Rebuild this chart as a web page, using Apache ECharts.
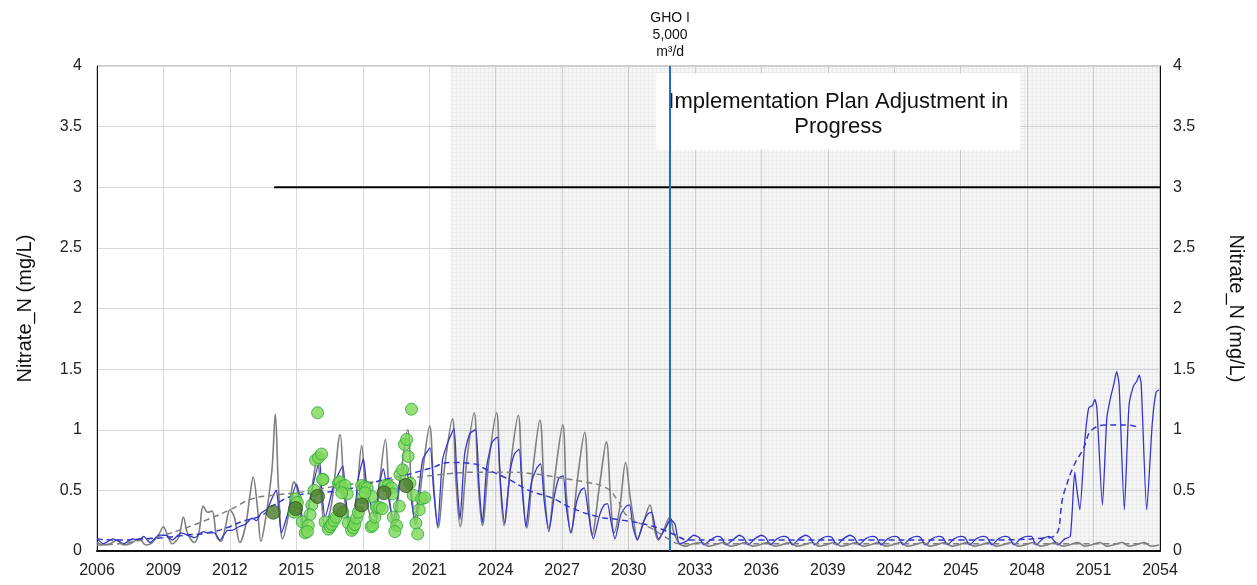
<!DOCTYPE html>
<html><head><meta charset="utf-8">
<script src="https://cdn.jsdelivr.net/npm/echarts@6/dist/echarts.min.js"></script>
<style>html,body{margin:0;padding:0;background:#fff}#c{width:1257px;height:585px}</style>
</head><body><div id="c"></div><script>
// ---------------- DATA ----------------
const yearStart = 2006, yearEnd = 2054, yearStep = 3;
const yTicks = [0, 0.5, 1, 1.5, 2, 2.5, 3, 3.5, 4];
const yLabel = 'Nitrate_N (mg/L)';
const boxText = 'Implementation Plan Adjustment in\nProgress';
const boxCorners = [[2031.25, 3.94], [2047.7, 3.31]];
const ghoYear = 2031.88;
const ghoLabel = 'GHO I\n5,000\nm³/d';
const shadeStart = 2021.95;
const threshold = [[2014, 3], [2054, 3]];

const grayLine = [
 [2006.0,0.07],[2006.3,0.05],[2006.6,0.06],[2006.9,0.09],[2007.2,0.05],[2007.5,0.06],[2007.9,0.1],[2008.2,0.05],
 [2008.5,0.07],[2008.8,0.14],[2009.0,0.2],[2009.2,0.12],[2009.4,0.06],[2009.7,0.12],[2009.9,0.28],[2010.1,0.14],
 [2010.4,0.07],[2010.6,0.15],[2010.8,0.37],[2011.0,0.32],[2011.2,0.33],[2011.4,0.12],[2011.6,0.08],[2011.8,0.2],
 [2012.0,0.34],[2012.2,0.28],[2012.45,0.07],[2012.7,0.2],[2012.9,0.45],[2013.05,0.61],[2013.25,0.35],[2013.4,0.08],
 [2013.6,0.25],[2013.9,0.67],[2014.05,1.13],[2014.2,0.5],[2014.38,0.1],[2014.6,0.25],[2014.9,0.57],[2015.05,0.5],
 [2015.3,0.2],[2015.6,0.4],[2015.95,0.76],[2016.1,0.5],[2016.3,0.2],[2016.6,0.4],[2016.98,0.96],[2017.15,0.5],
 [2017.35,0.22],[2017.55,0.17],[2017.75,0.5],[2017.95,0.87],[2018.15,0.45],[2018.4,0.25],[2018.55,0.23],[2018.75,0.55],
 [2019.02,0.92],[2019.2,0.45],[2019.4,0.2],[2019.7,0.6],[2020.03,1.0],[2020.2,0.5],[2020.38,0.22],[2020.7,0.65],
 [2021.02,1.03],[2021.2,0.55],[2021.4,0.19],[2021.7,0.7],[2022.05,1.09],[2022.2,0.6],[2022.4,0.2],[2022.7,0.75],
 [2023.03,1.14],[2023.2,0.6],[2023.4,0.21],[2023.7,0.75],[2024.04,1.14],[2024.2,0.6],[2024.38,0.21],[2024.7,0.75],
 [2025.02,1.12],[2025.2,0.55],[2025.4,0.19],[2025.7,0.7],[2026.0,1.08],[2026.2,0.5],[2026.4,0.19],[2026.7,0.65],
 [2027.03,1.04],[2027.2,0.45],[2027.4,0.15],[2027.7,0.6],[2028.02,0.98],[2028.2,0.4],[2028.35,0.13],[2028.7,0.55],
 [2029.0,0.9],[2029.2,0.4],[2029.35,0.15],[2029.6,0.35],[2029.87,0.73],[2030.07,0.45],[2030.2,0.3],[2030.4,0.1],
 [2030.7,0.25],[2030.97,0.38],[2031.15,0.2],[2031.35,0.09],[2031.6,0.18],[2031.87,0.28],[2032.05,0.15],[2032.3,0.06],
 [2032.6,0.04],[2032.9,0.06],[2033.3,0.07],[2033.6,0.04],[2033.9,0.05],[2034.3,0.07],[2034.6,0.04],[2034.9,0.05],
 [2035.3,0.07],[2035.6,0.04],[2035.9,0.05],[2036.3,0.07],[2036.6,0.04],[2036.9,0.05],[2037.3,0.07],[2037.6,0.04],
 [2037.9,0.05],[2038.3,0.07],[2038.6,0.04],[2038.9,0.05],[2039.3,0.07],[2039.6,0.04],[2039.9,0.05],[2040.3,0.07],
 [2040.6,0.04],[2040.9,0.05],[2041.3,0.07],[2041.6,0.04],[2041.9,0.05],[2042.3,0.07],[2042.6,0.04],[2042.9,0.05],
 [2043.3,0.07],[2043.6,0.04],[2043.9,0.05],[2044.3,0.07],[2044.6,0.04],[2044.9,0.05],[2045.3,0.07],[2045.6,0.04],
 [2045.9,0.05],[2046.3,0.07],[2046.6,0.04],[2046.9,0.05],[2047.3,0.07],[2047.6,0.04],[2047.9,0.05],[2048.3,0.07],
 [2048.6,0.04],[2048.9,0.05],[2049.3,0.07],[2049.6,0.04],[2049.9,0.05],[2050.3,0.07],[2050.6,0.04],[2050.9,0.05],
 [2051.3,0.07],[2051.6,0.04],[2051.9,0.05],[2052.3,0.07],[2052.6,0.04],[2052.9,0.05],[2053.3,0.07],[2053.6,0.04],
 [2053.95,0.05]
];

const blueLine = [
 [2006.0,0.1],[2006.3,0.06],[2006.7,0.1],[2007.0,0.08],[2007.2,0.06],[2007.6,0.1],[2007.9,0.09],[2008.1,0.12],
 [2008.4,0.07],[2008.8,0.13],[2009.1,0.13],[2009.4,0.09],[2009.8,0.15],[2010.1,0.13],[2010.4,0.11],[2010.8,0.16],
 [2011.0,0.15],[2011.3,0.15],[2011.55,0.09],[2011.9,0.17],[2012.1,0.17],[2012.4,0.2],[2012.7,0.22],[2013.0,0.27],
 [2013.2,0.25],[2013.4,0.31],[2013.7,0.35],[2013.96,0.46],[2014.1,0.5],[2014.2,0.35],[2014.33,0.15],[2014.6,0.3],
 [2015.0,0.55],[2015.15,0.45],[2015.35,0.18],[2015.7,0.5],[2016.05,0.74],[2016.15,0.5],[2016.3,0.28],[2016.7,0.55],
 [2017.1,0.7],[2017.2,0.5],[2017.35,0.27],[2017.55,0.23],[2017.8,0.6],[2018.03,0.76],[2018.2,0.5],[2018.55,0.28],
 [2018.75,0.55],[2018.93,0.68],[2019.1,0.5],[2019.38,0.26],[2019.7,0.6],[2019.92,0.71],[2020.1,0.55],[2020.35,0.25],
 [2020.7,0.75],[2021.04,0.85],[2021.2,0.5],[2021.38,0.2],[2021.6,0.75],[2021.85,0.9],[2022.12,1.01],[2022.25,0.6],
 [2022.39,0.26],[2022.6,0.8],[2022.84,0.97],[2023.1,1.0],[2023.25,0.55],[2023.4,0.23],[2023.6,0.7],[2023.85,0.9],
 [2024.08,0.94],[2024.22,0.55],[2024.4,0.23],[2024.65,0.65],[2024.85,0.8],[2025.06,0.84],[2025.2,0.5],[2025.37,0.2],
 [2025.6,0.55],[2025.85,0.68],[2026.03,0.72],[2026.2,0.4],[2026.4,0.16],[2026.65,0.45],[2026.85,0.6],[2027.05,0.62],
 [2027.2,0.35],[2027.4,0.15],[2027.65,0.4],[2027.85,0.5],[2028.0,0.52],[2028.2,0.3],[2028.41,0.1],[2028.7,0.3],
 [2028.9,0.38],[2029.05,0.39],[2029.2,0.25],[2029.39,0.1],[2029.65,0.3],[2029.9,0.37],[2030.05,0.38],[2030.2,0.2],
 [2030.4,0.09],[2030.7,0.25],[2030.9,0.31],[2031.05,0.32],[2031.2,0.2],[2031.35,0.1],[2031.65,0.18],[2031.9,0.26],
 [2032.1,0.22],[2032.3,0.06],[2032.6,0.08],[2032.95,0.13],[2033.2,0.11],[2033.4,0.05],[2033.7,0.09],[2034.0,0.12],
 [2034.2,0.11],[2034.4,0.05],[2034.7,0.09],[2035.0,0.13],[2035.2,0.11],[2035.4,0.05],[2035.7,0.1],[2036.0,0.13],
 [2036.2,0.11],[2036.4,0.05],[2036.7,0.1],[2037.0,0.12],[2037.2,0.11],[2037.4,0.05],[2037.7,0.1],[2038.0,0.13],
 [2038.2,0.11],[2038.4,0.05],[2038.7,0.1],[2039.0,0.12],[2039.2,0.11],[2039.4,0.05],[2039.7,0.1],[2040.0,0.13],
 [2040.2,0.11],[2040.4,0.05],[2040.7,0.1],[2041.0,0.12],[2041.2,0.11],[2041.4,0.05],[2041.7,0.1],[2042.0,0.12],
 [2042.2,0.11],[2042.4,0.05],[2042.7,0.1],[2043.0,0.12],[2043.2,0.11],[2043.4,0.05],[2043.7,0.1],[2044.0,0.12],
 [2044.2,0.11],[2044.4,0.05],[2044.7,0.1],[2045.0,0.12],[2045.2,0.11],[2045.4,0.05],[2045.7,0.1],[2046.0,0.12],
 [2046.2,0.11],[2046.4,0.05],[2046.7,0.1],[2047.0,0.12],[2047.2,0.11],[2047.4,0.05],[2047.7,0.1],[2048.0,0.12],
 [2048.2,0.12],[2048.4,0.05],[2048.7,0.1],[2049.0,0.12],[2049.15,0.1],[2049.4,0.05],[2049.7,0.1],[2049.95,0.12],
 [2050.15,0.65],[2050.25,0.5],[2050.38,0.34],[2050.6,0.9],[2050.78,1.18],[2050.95,1.2],[2051.06,1.25],[2051.15,1.18],
 [2051.4,0.38],[2051.6,1.1],[2051.75,1.25],[2051.92,1.38],[2052.04,1.48],[2052.15,1.38],[2052.39,0.34],[2052.6,1.2],
 [2052.8,1.36],[2052.95,1.4],[2053.06,1.45],[2053.15,1.38],[2053.4,0.34],[2053.65,1.05],[2053.82,1.31],[2053.95,1.33]
];

const grayTrend = [
 [2006.0,0.05],[2007.0,0.06],[2008.0,0.09],[2009.0,0.13],[2010.0,0.19],[2011.0,0.26],[2012.0,0.34],[2013.0,0.43],
 [2014.0,0.46],[2015.0,0.48],[2016.0,0.51],[2017.0,0.54],[2018.0,0.56],[2019.0,0.58],[2020.0,0.6],[2021.0,0.62],
 [2022.0,0.64],[2023.0,0.65],[2024.5,0.65],[2026.0,0.63],[2027.0,0.6],[2028.0,0.57],[2029.0,0.52],[2029.5,0.42],
 [2030.0,0.28],[2031.0,0.19],[2031.9,0.09],[2032.3,0.06],[2035.0,0.06],[2040.0,0.06],[2045.0,0.06],[2050.0,0.06],
 [2053.5,0.06]
];

const blueTrend = [
 [2006.0,0.1],[2007.0,0.09],[2008.0,0.1],[2009.0,0.11],[2010.0,0.13],[2011.0,0.15],[2012.0,0.2],[2012.5,0.24],
 [2013.5,0.3],[2014.0,0.38],[2015.0,0.46],[2016.0,0.48],[2017.0,0.5],[2018.0,0.54],[2019.0,0.59],[2020.0,0.63],
 [2021.0,0.68],[2022.0,0.73],[2023.0,0.72],[2023.5,0.68],[2024.5,0.6],[2025.5,0.5],[2026.5,0.44],[2027.5,0.35],
 [2028.7,0.28],[2029.5,0.26],[2030.5,0.23],[2031.5,0.18],[2032.0,0.14],[2032.8,0.09],[2036.0,0.09],[2040.0,0.09],
 [2045.0,0.09],[2049.0,0.11],[2049.7,0.5],[2050.1,0.7],[2050.5,0.83],[2051.0,1.01],[2051.7,1.04],[2052.5,1.04],
 [2053.0,1.02]
];

const obsPoints = [
 [2015.96,1.14],[2020.2,1.17],[2015.87,0.75],[2016.0,0.77],[2016.14,0.8],[2016.2,0.59],[2015.8,0.5],[2014.97,0.43],
 [2014.9,0.32],[2015.7,0.38],[2015.62,0.3],[2015.27,0.24],[2015.54,0.21],[2015.4,0.15],[2015.5,0.16],[2016.3,0.24],
 [2016.45,0.18],[2016.52,0.2],[2016.6,0.22],[2016.7,0.25],[2016.8,0.28],[2016.9,0.56],[2016.97,0.57],[2017.05,0.53],
 [2017.2,0.54],[2017.3,0.47],[2017.05,0.48],[2017.1,0.32],[2017.35,0.23],[2017.5,0.17],[2017.57,0.19],[2017.64,0.22],
 [2017.72,0.27],[2017.8,0.32],[2017.95,0.54],[2018.1,0.53],[2018.2,0.52],[2018.4,0.45],[2018.0,0.44],[2018.38,0.2],
 [2018.45,0.21],[2018.55,0.28],[2018.62,0.36],[2018.75,0.36],[2018.88,0.35],[2019.0,0.54],[2019.15,0.54],[2019.3,0.52],
 [2019.33,0.47],[2019.38,0.28],[2019.53,0.21],[2019.45,0.16],[2019.65,0.37],[2019.68,0.63],[2019.8,0.67],[2019.88,0.88],
 [2019.98,0.92],[2020.05,0.78],[2020.13,0.56],[2020.28,0.46],[2020.4,0.23],[2020.55,0.34],[2020.66,0.43],[2020.8,0.44],
 [2020.48,0.14],[2016.19,0.59],[2015.05,0.4],[2018.1,0.48]
];

const annualMean = [
 [2013.96,0.32],[2014.97,0.35],[2015.96,0.45],[2016.97,0.34],[2017.95,0.38],[2018.96,0.48],[2019.95,0.54]
];

// ---------------- CHART ----------------
const toX = p => [p[0] - yearStart, p[1]];
const pc = document.createElement('canvas'); pc.width = 4; pc.height = 4;
const g = pc.getContext('2d');
g.fillStyle = 'rgba(0,0,0,0.035)'; g.fillRect(0, 0, 4, 4);
g.fillStyle = 'rgba(0,0,0,0.04)'; g.fillRect(0, 0, 4, 1); g.fillRect(0, 0, 1, 4);

const FONT = 'Liberation Sans, Arial, sans-serif';
const chart = echarts.init(document.getElementById('c'), null, {renderer: 'canvas'});
const axisLabelStyle = {fontFamily: FONT, fontSize: 16, color: '#222'};
chart.setOption({
  animation: false,
  grid: {left: 97, right: 97, top: 66, bottom: 34, show: true, borderColor: '#9a9a9a', borderWidth: 1},
  xAxis: {
    type: 'value', min: 0, max: yearEnd - yearStart, interval: yearStep,
    axisLine: {show: true, onZero: false, lineStyle: {color: '#111', width: 2}},
    axisTick: {show: false},
    axisLabel: Object.assign({margin: 12, formatter: v => String(v + yearStart)}, axisLabelStyle),
    splitLine: {show: true, lineStyle: {color: '#d9d9d9', width: 1}}
  },
  yAxis: [
    {type: 'value', min: yTicks[0], max: yTicks[yTicks.length - 1], interval: yTicks[1] - yTicks[0],
     name: yLabel, nameLocation: 'middle', nameGap: 62, nameRotate: 90,
     nameTextStyle: {fontFamily: FONT, fontSize: 20, color: '#111'},
     axisLine: {show: true, lineStyle: {color: '#111', width: 1}}, axisTick: {show: false},
     axisLabel: Object.assign({margin: 15}, axisLabelStyle),
     splitLine: {show: true, lineStyle: {color: '#d9d9d9', width: 1}}},
    {type: 'value', position: 'right', min: yTicks[0], max: yTicks[yTicks.length - 1], interval: yTicks[1] - yTicks[0],
     name: yLabel, nameLocation: 'middle', nameGap: 66, nameRotate: -90,
     nameTextStyle: {fontFamily: FONT, fontSize: 20, color: '#111'},
     axisLine: {show: true, lineStyle: {color: '#111', width: 1}}, axisTick: {show: false},
     axisLabel: Object.assign({margin: 13}, axisLabelStyle),
     splitLine: {show: false}}
  ],
  series: [
    {type: 'line', name: 'shade', data: [], z: 1, silent: true,
     markArea: {silent: true, itemStyle: {color: {image: pc, repeat: 'repeat'}},
       data: [[{xAxis: shadeStart - yearStart, yAxis: yTicks[0]}, {xAxis: yearEnd - yearStart, yAxis: yTicks[yTicks.length - 1]}]]}},
    {type: 'line', name: 'threshold', data: threshold.map(toX), showSymbol: false, z: 3,
     lineStyle: {color: '#000', width: 2}},
    {type: 'line', name: 'gray', data: grayLine.map(toX), showSymbol: false, z: 4, smooth: 0.35,
     lineStyle: {color: '#7f7f7f', width: 1.6}},
    {type: 'line', name: 'blue', data: blueLine.map(toX), showSymbol: false, z: 5, smooth: 0.2,
     lineStyle: {color: '#3535cf', width: 1.3}},
    {type: 'line', name: 'grayTrend', data: grayTrend.map(toX), showSymbol: false, smooth: true, z: 5,
     lineStyle: {color: '#7f7f7f', width: 1.5, type: [6, 4]}},
    {type: 'line', name: 'blueTrend', data: blueTrend.map(toX), showSymbol: false, smooth: true, z: 5,
     lineStyle: {color: '#3535cf', width: 1.5, type: [6, 4]}},
    {type: 'line', name: 'gho', data: [], z: 6,
     markLine: {silent: true, symbol: 'none', lineStyle: {color: '#1f6fc0', width: 2, type: 'solid'},
       label: {show: true, position: 'end', formatter: ghoLabel, fontFamily: FONT, fontSize: 14, lineHeight: 17, color: '#111', distance: 5},
       data: [{xAxis: ghoYear - yearStart}]}},
    {type: 'scatter', name: 'obs', data: obsPoints.map(toX), symbolSize: 12, z: 7,
     itemStyle: {color: '#7dd758', borderColor: '#27a83a', borderWidth: 1}},
    {type: 'scatter', name: 'mean', data: annualMean.map(toX), symbolSize: 14, z: 8,
     itemStyle: {color: '#4a792b', borderColor: '#35571f', borderWidth: 1}},
    {type: 'line', name: 'box', data: [], z: 9,
     markArea: {silent: true, itemStyle: {color: '#fff'},
       label: {show: true, position: 'inside', formatter: boxText, fontFamily: FONT, fontSize: 22, lineHeight: 25, color: '#111', offset: [0, 3]},
       data: [[{xAxis: boxCorners[0][0] - yearStart, yAxis: boxCorners[0][1]}, {xAxis: boxCorners[1][0] - yearStart, yAxis: boxCorners[1][1]}]]}}
  ]
});
</script></body></html>
